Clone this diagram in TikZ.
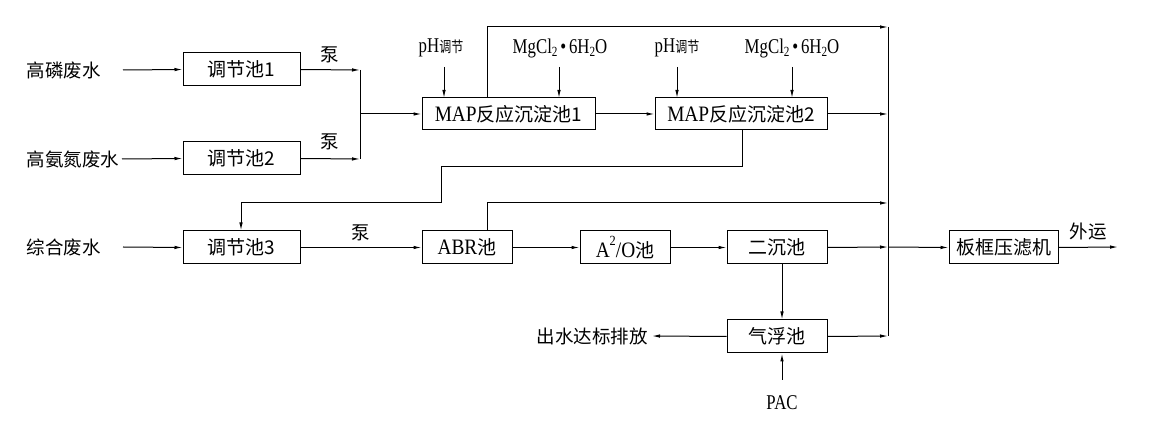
\documentclass[tikz,border=0pt]{standalone}
\usepackage{fontspec}
\usepackage{graphicx}
\setmainfont{Liberation Serif}
\newfontfamily\cjk{Noto Sans CJK SC}
\usetikzlibrary{arrows.meta}
\newcommand{\nrw}[1]{\scalebox{0.8}[1]{#1}}
\newcommand{\sub}[1]{\raisebox{-0.35ex}{\fontsize{14}{14}\selectfont #1}}
\newcommand{\latin}[1]{\scalebox{0.88}[1]{\fontsize{22}{24}\selectfont\rmfamily #1}}
\tikzset{
  box/.style={draw, line width=1pt, inner sep=0pt, minimum height=33pt, font=\cjk\fontsize{19}{22}\selectfont},
  lbl/.style={inner sep=0pt, font=\cjk\fontsize{18.5}{22}\selectfont},
  latl/.style={inner sep=0pt, font=\fontsize{21}{24}\selectfont},
  ln/.style={line width=1pt},
  arr/.style={line width=1pt, -{Latex[length=8pt,width=3.5pt]}},
}
\begin{document}
\begin{tikzpicture}[x=1pt,y=-1pt]
\useasboundingbox (0,0) rectangle (1157,427);
% sources
\node[lbl] (src1) at (64,70) {高磷废水};
\node[lbl] (src2) at (73,159) {高氨氮废水};
\node[lbl] (src3) at (64,247) {综合废水};
\coordinate (s1) at (123,70);
\coordinate (s2) at (122,159);
\coordinate (s3) at (123,247);
% boxes
\node[box, minimum width=117pt] (t1) at (241.5,69.5) {调节池1};
\node[box, minimum width=117pt] (t2) at (241.5,158.5) {调节池2};
\node[box, minimum width=117pt] (t3) at (241.5,247.5) {调节池3};
\node[box, minimum width=173pt, minimum height=32pt] (m1) at (508.5,114) {\latin{MAP}反应沉淀池1};
\node[box, minimum width=172pt, minimum height=32pt] (m2) at (741,114) {\latin{MAP}反应沉淀池2};
\node[box, minimum width=90pt] (abr) at (467,247.5) {\latin{ABR}池};
\node[box, minimum width=90pt] (ao) at (625,247.5) {\latin{A\raisebox{1.1ex}{\fontsize{14}{14}\selectfont 2}/O}池};
\node[box, minimum width=100pt] (er) at (777,247.5) {二沉池};
\node[box, minimum width=100pt] (qf) at (777,336.5) {气浮池};
\node[box, minimum width=109pt] (bk) at (1003.5,247.5) {板框压滤机};
% labels
\node[lbl] (p1) at (330,55) {泵};
\node[lbl] (p2) at (330,142) {泵};
\node[lbl] (p3) at (361,233) {泵};
\node[latl] (ph1) at (441,48) {\nrw{pH{\cjk\fontsize{15}{18}\selectfont 调节}}};
\node[latl] (mg1) at (560,48) {\nrw{MgCl\sub{2}\,•\,6H\sub{2}O}};
\node[latl] (ph2) at (677,48) {\nrw{pH{\cjk\fontsize{15}{18}\selectfont 调节}}};
\node[latl] (mg2) at (792,48) {\nrw{MgCl\sub{2}\,•\,6H\sub{2}O}};
\node[lbl] (wy) at (1088,232) {外运};
\node[lbl, anchor=east] (out) at (648,336) {出水达标排放};
\node[latl] (pac) at (782,403) {\nrw{PAC}};
% coordinates
\coordinate (j1) at (360,70);
\coordinate (j2) at (360,159);
\coordinate (jm) at (360,114);
\coordinate (bt) at (888,27);
\coordinate (bm) at (888,114);
\coordinate (ba) at (888,203);
\coordinate (be) at (888,247);
\coordinate (bq) at (888,336);
\coordinate (end) at (1118,247);
\coordinate (outp) at (652,336);
\coordinate (pacp) at (782,380);
% connectors
\draw[arr] (s1) -- (t1.west);
\draw[arr] (s2) -- (t2.west);
\draw[arr] (s3) -- (t3.west);
\draw[arr] (t1.east) -- (j1);
\draw[arr] (t2.east) -- (j2);
\draw[ln] (j1) -- (j2);
\draw[arr] (jm) -- (m1.west);
\draw[arr] (444,67) -- (444,98);
\draw[arr] (559,67) -- (559,98);
\draw[arr] (677,67) -- (677,98);
\draw[arr] (792,67) -- (792,98);
\draw[arr] (m1.east) -- (m2.west);
\draw[arr] (m1.north -| 487,0) |- (bt);
\draw[arr] (m2.east) -- (bm);
\draw[arr] (m2.south -| 742,0) -- (742,167) -- (441,167) -- (441,203) -- (241,203) -- (t3.north -| 241,0);
\draw[arr] (t3.east) -- (abr.west);
\draw[arr] (abr.north -| 487,0) |- (ba);
\draw[arr] (abr.east) -- (ao.west);
\draw[arr] (ao.east) -- (er.west);
\draw[arr] (er.east) -- (be);
\draw[ln] (bt) -- (bq);
\draw[arr] (be) -- (bk.west);
\draw[arr] (bk.east) -- (end);
\draw[arr] (er.south -| 782,0) -- (qf.north -| 782,0);
\draw[arr] (pacp) -- (qf.south -| 782,0);
\draw[arr] (qf.west) -- (outp);
\draw[arr] (qf.east) -- (bq);
\end{tikzpicture}
\end{document}
